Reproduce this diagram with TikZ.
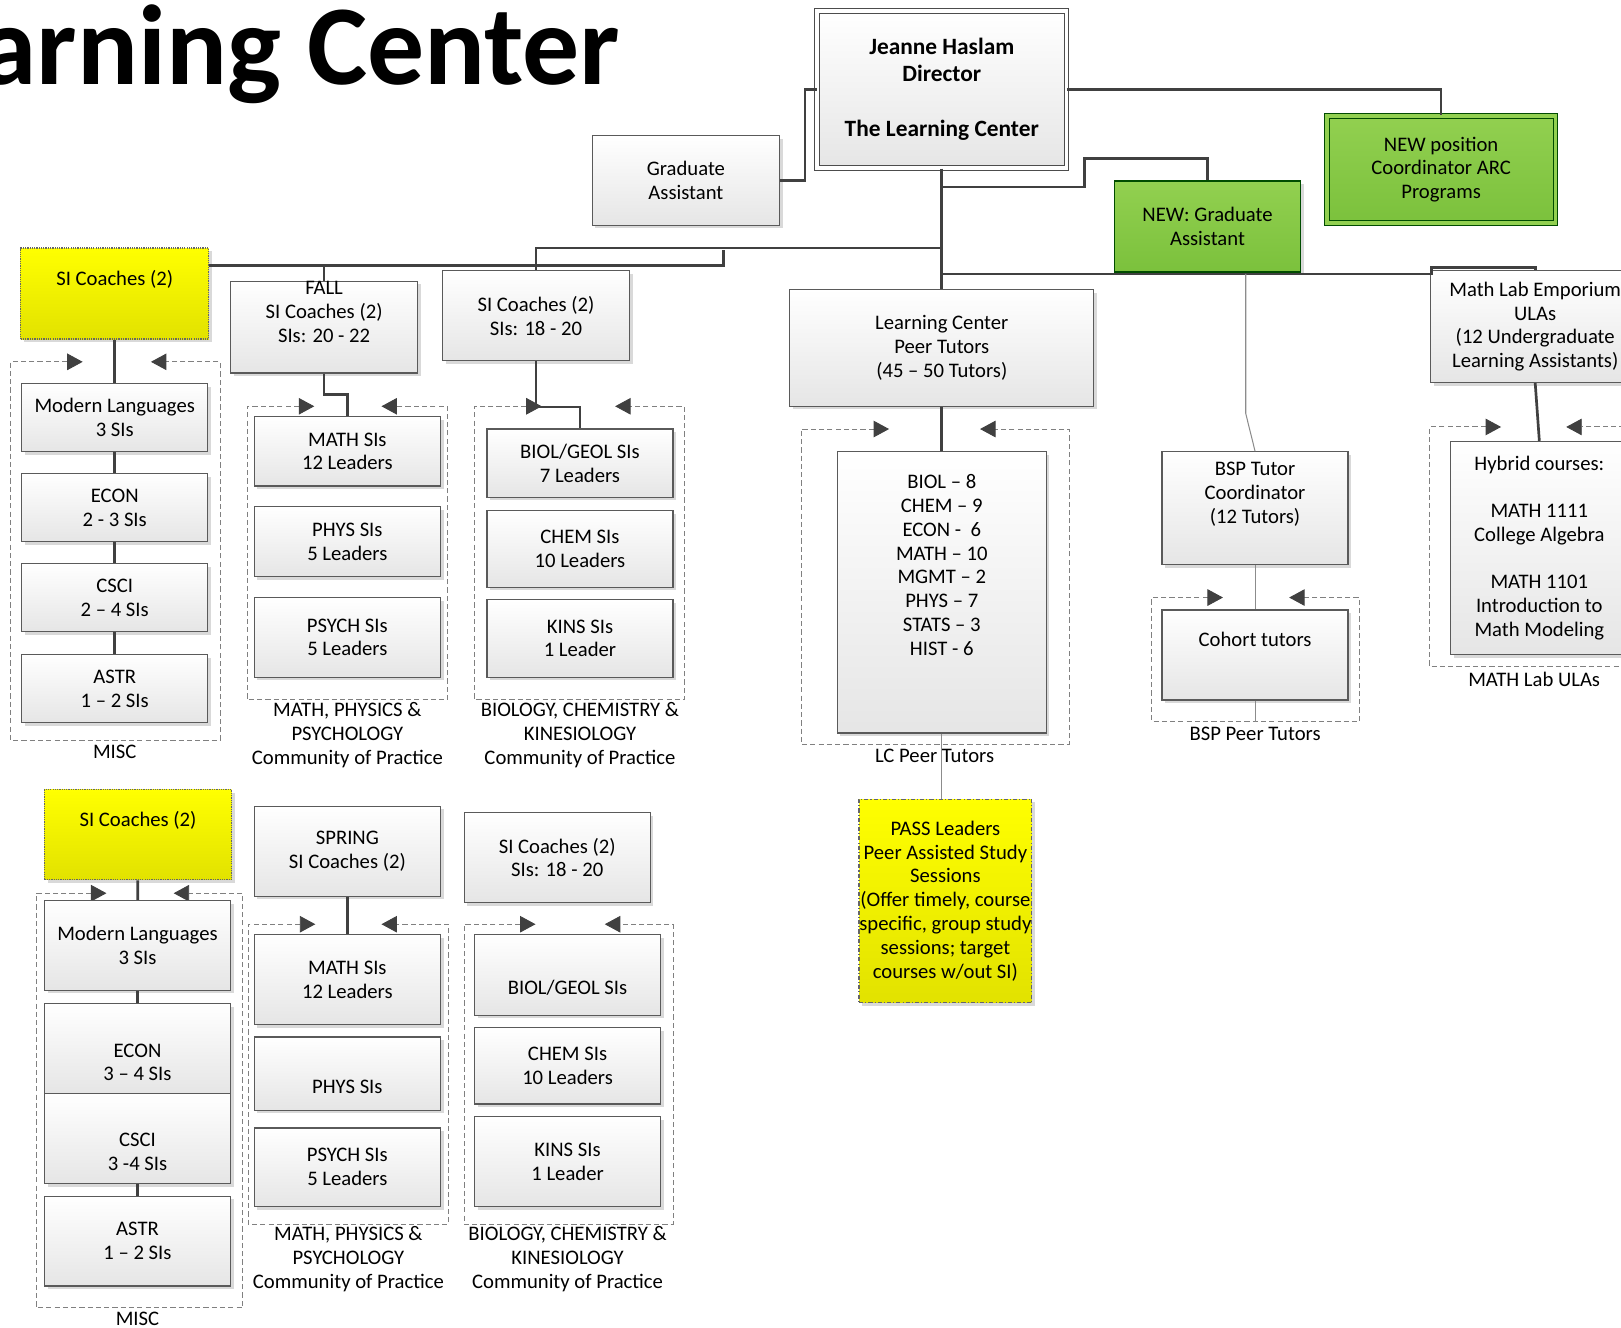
\documentclass[tikz,border=0pt]{standalone}
\usepackage{fontspec}
\setmainfont{Carlito}
\usetikzlibrary{arrows.meta,shadows}

\definecolor{linegray}{HTML}{404040}
\definecolor{boxline}{HTML}{5A5A5A}
\definecolor{grpgray}{HTML}{808080}
\definecolor{arrgray}{HTML}{404040}
\definecolor{siyellow}{HTML}{FFFF00}
\definecolor{siyellowdark}{HTML}{E2E200}
\definecolor{newgreen}{HTML}{92D050}
\definecolor{newgreendark}{HTML}{7BC13C}

\newcommand{\boxfont}{\fontsize{20}{23}\selectfont}
\newcommand{\dirfont}{\fontsize{22.6}{26.5}\selectfont\bfseries}

\tikzset{
  box/.style={draw=boxline, line width=1.2pt, top color=white, bottom color=black!10,
    drop shadow={shadow xshift=3pt, shadow yshift=-3pt, fill=black!15, opacity=1},
    align=center, inner sep=0pt, minimum width=180pt, minimum height=87pt, font=\boxfont},
  yellowbox/.style={box, draw=black!60, densely dotted, top color=siyellow, bottom color=siyellowdark},
  greenbox/.style={box, draw=green!30!black, top color=newgreen, bottom color=newgreendark},
  link/.style={draw=linegray, line width=2.6pt},
  thinlink/.style={draw=black!45, line width=1pt},
  grp/.style={draw=grpgray, line width=0.9pt, dash pattern=on 5pt off 3pt,
    arrows={Triangle[length=15pt,width=16pt,color=arrgray]-Triangle[length=15pt,width=16pt,color=arrgray]}},
  grplabel/.style={align=center, inner sep=0pt, font=\boxfont},
}

\begin{document}
\begin{tikzpicture}[x=1pt, y=-1pt]
\useasboundingbox (0,0) rectangle (1568,1284);
\clip (0,0) rectangle (1568,1284);

\node[anchor=base east, inner sep=0pt, font=\fontsize{110}{110}\selectfont\bfseries] (title) at (600,82) {Learning Center};

% dashed groups
\draw[grp] (80,350) -- (10,350) -- (10,716) -- (213,716) -- (213,350) -- (146,350);
\draw[grp] (304,393) -- (239,393) -- (239,677) -- (433,677) -- (433,393) -- (369,393);
\draw[grp] (524,393) -- (459,393) -- (459,677) -- (662,677) -- (662,393) -- (595,393);
\draw[grp] (860,415) -- (775,415) -- (775,720) -- (1034,720) -- (1034,415) -- (948,415);
\draw[grp] (1183,578) -- (1114,578) -- (1114,698) -- (1315,698) -- (1315,578) -- (1247,578);
\draw[grp] (1452,413) -- (1383,413) -- (1383,645) -- (1590,645) -- (1590,413) -- (1515,413);
\draw[grp] (103,864) -- (35,864) -- (35,1265) -- (235,1265) -- (235,864) -- (168,864);
\draw[grp] (305,894) -- (240,894) -- (240,1184) -- (434,1184) -- (434,894) -- (369,894);
\draw[grp] (518,894) -- (449,894) -- (449,1184) -- (651,1184) -- (651,894) -- (585,894);

% top
\node[box, minimum width=241pt, minimum height=152pt, draw=black!70, line width=1pt,
  double=white, double distance=3.5pt, font=\dirfont] (dir) at (911,86.5)
  {Jeanne Haslam\\Director\\\strut\\The Learning Center};
\node[box, minimum width=181pt] (ga) at (663.5,174.5) {Graduate\\Assistant};
\node[greenbox, minimum width=221pt, minimum height=104pt, line width=1pt,
  double=newgreen, double distance=3.5pt] (newpos) at (1394,164) {NEW position\\Coordinator ARC\\Programs};
\node[greenbox, minimum height=88pt] (newga) at (1168,219) {NEW: Graduate\\Assistant};

% second row
\node[yellowbox, minimum width=182pt, minimum height=88pt] (ysi) at (111,284) {SI Coaches (2)\\\strut};
\node[box, minimum width=181pt] (fall) at (313.5,316.5) {FALL\\SI Coaches (2)\\SIs: 20 - 22\\\strut};
\node[box, minimum width=181pt] (sicb) at (518.5,305.5) {SI Coaches (2)\\SIs: 18 - 20};
\node[box, minimum width=294pt, minimum height=113pt] (lcpt) at (911,336.5) {Learning Center\\Peer Tutors\\(45 – 50 Tutors)};
\node[box, minimum width=202pt, minimum height=108pt] (mathlab) at (1485,316) {Math Lab Emporium\\ULAs\\(12 Undergraduate\\Learning Assistants)};

% fall SIs
\node[box, minimum height=66pt] (fml) at (111,404) {Modern Languages\\3 SIs};
\node[box, minimum height=66pt] (fecon) at (111,491) {ECON\\2 - 3 SIs};
\node[box, minimum height=66pt] (fcsci) at (111,578) {CSCI\\2 – 4 SIs};
\node[box, minimum height=66pt] (fastr) at (111,666) {ASTR\\1 – 2 SIs};
\node[box, minimum height=67pt] (fmath) at (336,436.5) {MATH SIs\\12 Leaders};
\node[box, minimum height=68pt] (fphys) at (336,524) {PHYS SIs\\5 Leaders};
\node[box, minimum height=77pt] (fpsych) at (336,616.5) {PSYCH SIs\\5 Leaders};
\node[box, minimum height=66pt] (fbiol) at (561,448) {BIOL/GEOL SIs\\7 Leaders};
\node[box, minimum height=74pt] (fchem) at (561,531) {CHEM SIs\\10 Leaders};
\node[box, minimum height=75pt] (fkins) at (561,617.5) {KINS SIs\\1 Leader};

% tutors
\node[box, minimum width=202pt, minimum height=272pt] (lclist) at (911,573)
  {BIOL – 8\\CHEM – 9\\ECON -\ \ 6\\MATH – 10\\MGMT – 2\\PHYS – 7\\STATS – 3\\HIST - 6\\\strut\\\strut};
\node[yellowbox, dash pattern=on 4pt off 2pt on 1pt off 2pt, minimum width=167pt, minimum height=197pt] (pass) at (914.5,871.5)
  {PASS Leaders\\Peer Assisted Study\\Sessions\\(Offer timely, course\\specific, group study\\sessions; target\\courses w/out SI)};
\node[box, minimum height=109pt] (bsp) at (1214,491.5) {BSP Tutor\\Coordinator\\(12 Tutors)\\\strut};
\node[box] (cohort) at (1214,633.5) {Cohort tutors\\\strut};
\node[box, minimum width=172pt, minimum height=206pt] (hybrid) at (1489,530)
  {Hybrid courses:\\\strut\\MATH 1111\\College Algebra\\\strut\\MATH 1101\\Introduction to\\Math Modeling};

% spring
\node[yellowbox, minimum width=181pt] (ysi2) at (133.5,807.5) {SI Coaches (2)\\\strut};
\node[box] (spring) at (336,823.5) {SPRING\\SI Coaches (2)};
\node[box] (sicb2) at (539,829.5) {SI Coaches (2)\\SIs: 18 - 20};
\node[box] (sml) at (133,914.5) {Modern Languages\\3 SIs};
\node[box] (secon) at (133,1014.5) {\strut\\ECON\\3 – 4 SIs};
\node[box] (scsci) at (133,1101.5) {\strut\\CSCI\\3 -4 SIs};
\node[box] (sastr) at (133,1200.5) {ASTR\\1 – 2 SIs};
\node[box] (smath) at (336,947.5) {MATH SIs\\12 Leaders};
\node[box, minimum height=71pt] (sphys) at (336,1038.5) {\strut\\PHYS SIs};
\node[box, minimum height=76pt] (spsych) at (336,1129) {PSYCH SIs\\5 Leaders};
\node[box, minimum height=78pt] (sbiol) at (549,943) {\strut\\BIOL/GEOL SIs};
\node[box, minimum height=74pt] (schem) at (549,1031) {CHEM SIs\\10 Leaders};
\node[box] (skins) at (549,1123.5) {KINS SIs\\1 Leader};

% group labels
\node[grplabel] (miscf) at (111,727) {MISC};
\node[grplabel] (mppf) at (336,711) {MATH, PHYSICS \&\\PSYCHOLOGY\\Community of Practice};
\node[grplabel] (bckf) at (561,711) {BIOLOGY, CHEMISTRY \&\\KINESIOLOGY\\Community of Practice};
\node[grplabel] (lcgrp) at (904,731) {LC Peer Tutors};
\node[grplabel] (bspgrp) at (1214,710) {BSP Peer Tutors};
\node[grplabel] (ulagrp) at (1484,657) {MATH Lab ULAs};
\node[grplabel] (miscs) at (133,1276) {MISC};
\node[grplabel] (mpps) at (337,1218) {MATH, PHYSICS \&\\PSYCHOLOGY\\Community of Practice};
\node[grplabel] (bcks) at (549,1218) {BIOLOGY, CHEMISTRY \&\\KINESIOLOGY\\Community of Practice};

% connectors
\coordinate (jL) at (911,240);
\coordinate (fallbus) at (700,257);
\coordinate (jR) at (911,265);
\coordinate (bspbend) at (1205,400);

\draw[link] (dir.south) -- (lcpt.north);
\draw[link] (ga.east) -- ++(24,0) |- (dir.west);
\draw[link] (dir.east) -| (newpos.north);
\draw[link] (dir.south |- 0,181) -- (1049,181) -- (1049,153) -| (newga.north);
\draw[link] (jL) -| (sicb.north);
\draw[link] (ysi.east |- fallbus) -- (fallbus) -- (fallbus |- 0,242);
\draw[link] (fall.north) -- (fall.north |- fallbus);
\draw[link] (fall.south) -- ++(0,20) -| (fmath.north);
\draw[link] (sicb.south) -- ++(0,44) -| (fbiol.north);
\draw[link] (ysi) -- (fml);
\draw[link] (fml) -- (fecon);
\draw[link] (fecon) -- (fcsci);
\draw[link] (fcsci) -- (fastr);
\draw[link] (jR) -- (1385,265) -- (1385,259) -| (mathlab.north);
\draw[thinlink] (jR -| bspbend) -- (bspbend) -- (bsp.north);
\draw[link] (mathlab.south) -- (hybrid.north);
\draw[link] (lcpt) -- (lclist);
\draw[thinlink] (lclist.south) -- (lclist.south |- pass.north);
\draw[thinlink] (bsp) -- (cohort);
\draw[thinlink] (cohort.south) -- ++(0,21);
\draw[link] (ysi2) -- (sml);
\draw[link] (sml) -- (secon);
\draw[link] (scsci) -- (sastr);
\draw[link] (spring) -- (smath);
\end{tikzpicture}
\end{document}
